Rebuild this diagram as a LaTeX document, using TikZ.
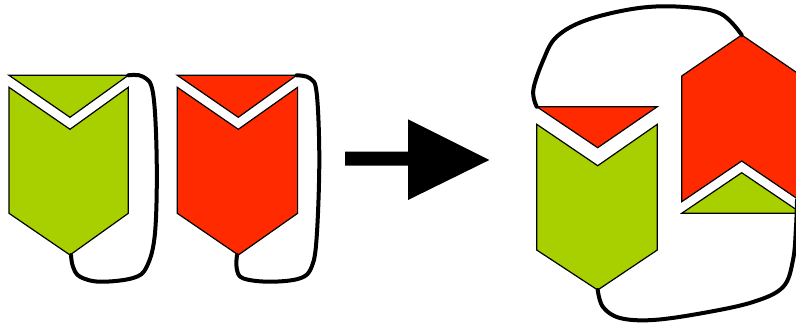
\documentclass[tikz,border=0pt]{standalone}
\definecolor{leafgreen}{RGB}{168,208,0}
\definecolor{flamered}{RGB}{255,42,0}
\usepackage{tikz}
\usetikzlibrary{calc}

\tikzset{
  piece/.style={draw=black, line width=1.2bp, line join=miter},
  loopline/.style={draw=black, line width=4bp, line cap=round, line join=round},
}

\begin{document}
\begin{tikzpicture}[x=1bp, y=-1bp]
        \useasboundingbox (0,0) rectangle (796,327);
        \clip (0,0) rectangle (796,327);

        % Left pair: green piece
        \fill[piece, fill=leafgreen] (9,75.3) -- (128.3,75.3) -- (70,117.3) -- cycle;
        \fill[piece, fill=leafgreen] (9,87.3) -- (70,129.3) -- (128.3,87.3) -- (128.3,213.3)
              -- (70,255) -- (9,213.3) -- cycle;
        \coordinate (gtop) at (128.3,75.3);
        \coordinate (gbot) at (71,255);
        \draw[loopline] plot[smooth, tension=0.6] coordinates {(gtop) (143,76.7) (153,93)
              (156.7,160) (155,233) (146.7,266.7) (133,278) (100,281.7) (80,276.7) (73,266.7) (gbot)};

        % Left pair: red piece
        \fill[piece, fill=flamered] (177.3,75.3) -- (296.6,75.3) -- (238.3,117.3) -- cycle;
        \fill[piece, fill=flamered] (177.3,87.3) -- (238.3,129.3) -- (297.6,87.3) -- (297.6,213.3)
              -- (238.3,255) -- (177.3,213.3) -- cycle;
        \coordinate (rtop) at (296.6,75.3);
        \coordinate (rbot) at (237,255);
        \draw[loopline] plot[smooth, tension=0.6] coordinates {(rtop) (310,78.3) (316.7,93.3)
              (319.3,160) (316.7,236.7) (311.7,266.7) (300,278.3) (270,281.7) (243,278.3) (236.7,268.3) (rbot)};

        % Arrow
        \fill[black] (345,151.7) -- (408,151.7) -- (408,119.3) -- (489.3,160) -- (408,200)
              -- (408,165.7) -- (345,165.7) -- cycle;

        % Right group: green piece with red cap
        \fill[piece, fill=flamered] (536.7,106.7) -- (657.3,106.7) -- (597.7,147.7) -- cycle;
        \fill[piece, fill=leafgreen] (536.7,124.3) -- (597.7,165.7) -- (657.3,124.3) -- (657.3,250)
              -- (597.7,290) -- (536.7,250) -- cycle;

        % Right group: red piece turned over, green cap
        \fill[piece, fill=flamered] (741.7,35) -- (801.7,76) -- (801.7,201.7) -- (741.7,161)
              -- (681.7,201.7) -- (681.7,76) -- cycle;
        \fill[piece, fill=leafgreen] (741.7,172.7) -- (801.7,213.3) -- (681.7,213.3) -- cycle;

        % Right group: joined loop
        \coordinate (ltop) at (536.7,106.7);
        \coordinate (lpeak) at (741.7,35);
        \coordinate (lbot) at (597.7,290);
        \draw[loopline] plot[smooth, tension=0.6] coordinates {(ltop) (533.3,90) (543.3,60)
              (556.7,36.7) (586.7,20) (636.7,8.3) (680,6.7) (720,13.3) (lpeak)};
        \draw[loopline] plot[smooth, tension=0.6] coordinates {(lbot) (603,307) (620,318)
              (653,320) (703,313) (753,302) (783,287) (793,260) (796,227) (797,200)};
      \end{tikzpicture}
\end{document}
